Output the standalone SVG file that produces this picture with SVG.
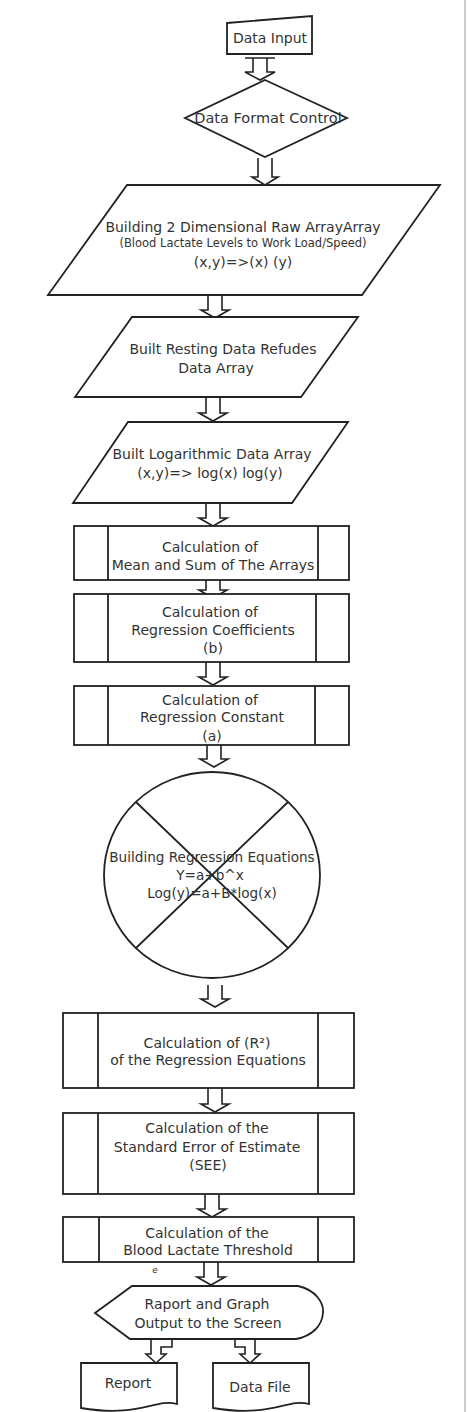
<svg xmlns="http://www.w3.org/2000/svg" width="468" height="1412" viewBox="0 0 468 1412">
<style>
.s{fill:#fff;stroke:#222;stroke-width:1.8}
.in{stroke:#222;stroke-width:1.8;fill:none}
.arr{fill:#fff;stroke:#222;stroke-width:1.6;stroke-linejoin:miter}
text{font-family:"DejaVu Sans","Liberation Sans",sans-serif;font-size:14px;fill:#333;text-anchor:middle}
.sm{font-size:11.5px}
.eq{font-size:13.6px}
</style>
<rect width="468" height="1412" fill="#fff"/>
<line x1="465" y1="0" x2="465" y2="1412" stroke="#ccc" stroke-width="2"/>

<g id="connectors">
<path class="arr" d="M245,58 H275 M253,58 V72 H245 L260,80 L275,72 H267 V58"/>
<path class="arr" d="M258,158 V177 H252 L265,185 L278,177 H272 V158"/>
<path class="arr" d="M208,295 V310 H201 L215,318 L229,310 H222 V295"/>
<path class="arr" d="M206,397 V413 H199 L213,421 L227,413 H220 V397"/>
<path class="arr" d="M206,503 V518 H199 L213,526 L227,518 H220 V503"/>
<path class="arr" d="M206,580 V590 H199 L213,598 L227,590 H220 V580"/>
<path class="arr" d="M206,662 V677 H199 L213,685 L227,677 H220 V662"/>
<path class="arr" d="M207,745 V759 H200 L214,767 L228,759 H221 V745"/>
<path class="arr" d="M208,985 V999 H201 L215,1007 L229,999 H222 V985"/>
<path class="arr" d="M208,1088 V1104 H201 L215,1112 L229,1104 H222 V1088"/>
<path class="arr" d="M205,1194 V1209 H198 L212,1217 L226,1209 H219 V1194"/>
<path class="arr" d="M204,1262 V1277 H197 L211,1285 L225,1277 H218 V1262"/>
<path class="arr" d="M151,1339 V1354 H146 L156,1363 L166,1354 H161 V1347 H172 V1339"/>
<path class="arr" d="M235,1339 V1347 H245 V1354 H240 L250,1363 L260,1354 H255 V1339"/>
</g>

<g id="data-input">
<path class="s" d="M227,23 L312,16 V54 H227 Z"/>
<text x="270" y="43">Data Input</text>
</g>

<g id="format-control">
<path class="s" d="M265,80 L347,118 L265,157 L185,118 Z"/>
<text x="268" y="123" style="font-size:14.5px">Data Format Control</text>
</g>

<g id="raw-array">
<path class="s" d="M127,185 H440 L362,295 H48 Z"/>
<text x="243" y="232">Building 2 Dimensional Raw ArrayArray</text>
<text class="sm" x="243" y="247">(Blood Lactate Levels to Work Load/Speed)</text>
<text x="243" y="267">(x,y)=&gt;(x) (y)</text>
</g>

<g id="resting-array">
<path class="s" d="M132,317 H358 L301,397 H75 Z"/>
<text x="223" y="354">Built Resting Data Refudes</text>
<text x="216" y="373">Data Array</text>
</g>

<g id="log-array">
<path class="s" d="M128,422 H348 L292,503 H73 Z"/>
<text x="212" y="459">Built Logarithmic Data Array</text>
<text x="210" y="478">(x,y)=&gt; log(x) log(y)</text>
</g>

<g id="mean-sum">
<rect class="s" x="74" y="526" width="275" height="54"/>
<path class="in" d="M108,526 V580 M318,526 V580"/>
<text x="210" y="552">Calculation of</text>
<text x="213" y="570">Mean and Sum of The Arrays</text>
</g>

<g id="coefficients">
<rect class="s" x="74" y="594" width="275" height="68"/>
<path class="in" d="M108,594 V662 M316,594 V662"/>
<text x="210" y="617">Calculation of</text>
<text x="213" y="635">Regression Coefficients</text>
<text x="213" y="653">(b)</text>
</g>

<g id="constant">
<rect class="s" x="74" y="686" width="275" height="59"/>
<path class="in" d="M108,686 V745 M315,686 V745"/>
<text x="210" y="705">Calculation of</text>
<text x="212" y="722">Regression Constant</text>
<text x="212" y="741">(a)</text>
</g>

<g id="equations">
<ellipse class="s" cx="212" cy="875" rx="108" ry="103"/>
<path class="in" d="M136,802 L288,948 M288,802 L136,948" stroke-width="1.5"/>
<text class="eq" x="212" y="862">Building Regression Equations</text>
<text class="eq" x="210" y="880">Y=a+b^x</text>
<text class="eq" x="212" y="898">Log(y)=a+B*log(x)</text>
</g>

<g id="r-squared">
<rect class="s" x="63" y="1013" width="291" height="75"/>
<path class="in" d="M98,1013 V1088 M318,1013 V1088"/>
<text x="207" y="1048">Calculation  of (R²)</text>
<text x="208" y="1065">of the Regression Equations</text>
</g>

<g id="see">
<rect class="s" x="63" y="1113" width="291" height="81"/>
<path class="in" d="M98,1113 V1194 M318,1113 V1194"/>
<text x="207" y="1133">Calculation of the</text>
<text x="207" y="1152">Standard Error of Estimate</text>
<text x="208" y="1170">(SEE)</text>
</g>

<g id="threshold">
<rect class="s" x="63" y="1217" width="291" height="45"/>
<path class="in" d="M99,1217 V1262 M318,1217 V1262"/>
<text x="207" y="1238">Calculation of the</text>
<text x="208" y="1255">Blood Lactate Threshold</text>
<text x="155" y="1273" style="font-size:9px;font-style:italic">e</text>
</g>

<g id="screen-output">
<path class="s" d="M95,1313 L132,1286 H298 C316,1290 324,1303 323,1313 C322,1326 312,1336 296,1339 H130 Z"/>
<text x="207" y="1309">Raport and Graph</text>
<text x="208" y="1328">Output to the Screen</text>
</g>

<g id="report">
<path class="s" d="M81,1363 H177 V1404 C155,1398 140,1418 81,1408 Z"/>
<text x="128" y="1388">Report</text>
</g>

<g id="data-file">
<path class="s" d="M213,1363 H309 V1404 C287,1398 272,1418 213,1408 Z"/>
<text x="260" y="1392">Data File</text>
</g>
</svg>
